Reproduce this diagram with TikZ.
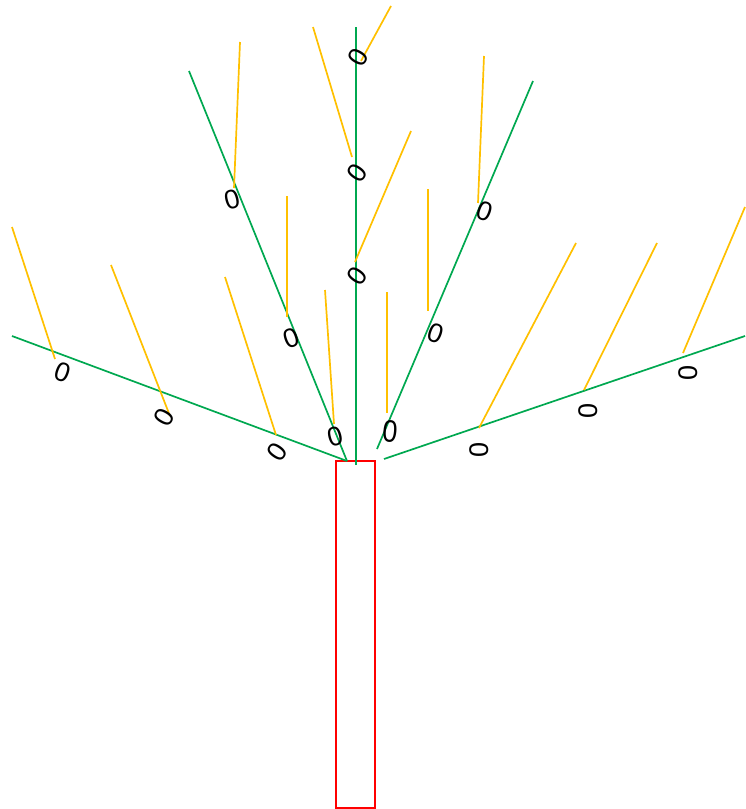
\documentclass[tikz,border=0pt]{standalone}
\usepackage{fontspec}
\setmainfont{Liberation Sans}
\usepackage{tikz}
\usetikzlibrary{positioning}
\definecolor{bark}{HTML}{FF0000}
\definecolor{limb}{HTML}{00A850}
\definecolor{shoot}{HTML}{FFC000}

\tikzset{
  trunk/.style={draw=bark,line width=1.6pt},
  limb/.style={draw=limb,line width=1.7pt},
  shoot/.style={draw=shoot,line width=1.7pt},
  bud/.style={inner sep=0pt,font=\fontsize{27}{27}\selectfont}
}

\begin{document}
\begin{tikzpicture}[x=1pt,y=-1pt]
  \useasboundingbox (0,0) rectangle (745,809);

  % Trunk
  \draw[trunk] (336,461) rectangle (375,808);

  % Main limbs
  \coordinate (base) at (356,465);
  \coordinate (baseL) at (347,461);
  \coordinate (baseR) at (377,449);
  \coordinate (baseRL) at (384,459);
  \draw[limb] (base) -- (356,27);
  \draw[limb] (baseL) -- (189,71);
  \draw[limb] (baseL) -- (12,336);
  \draw[limb] (baseR) -- (533,81);
  \draw[limb] (baseRL) -- (745,336);

  % Shoots on the leader
  \draw[shoot] (391,6) -- (361,61);
  \draw[shoot] (313,27) -- (352,157);
  \draw[shoot] (411,131) -- (355,262);
  \draw[shoot] (428,189) -- (428,311);
  \draw[shoot] (325,290) -- (334,424);
  \draw[shoot] (387,292) -- (387,413);

  % Shoots on the left limbs
  \draw[shoot] (240,42) -- (234,188);
  \draw[shoot] (287,196) -- (287,317);
  \draw[shoot] (225,277) -- (276,435);
  \draw[shoot] (12,227) -- (55,359);
  \draw[shoot] (111,265) -- (170,416);

  % Shoots on the right limbs
  \draw[shoot] (484,56) -- (478,203);
  \draw[shoot] (576,243) -- (479,428);
  \draw[shoot] (657,243) -- (584,390);
  \draw[shoot] (745,207) -- (683,353);

  % Buds
  \node[bud,rotate=60] (b1) at (358,57) {0};
  \node[bud,rotate=55] (b2) at (357,173) {0};
  \node[bud,rotate=55] (b3) at (357,276) {0};
  \node[bud,rotate=15] (b4) at (232,200) {0};
  \node[bud,rotate=20] (b5) at (291,338) {0};
  \node[bud,rotate=15] (b6) at (335,437) {0};
  \node[bud,rotate=-20] (b7) at (63,372) {0};
  \node[bud,rotate=60] (b8) at (164,417) {0};
  \node[bud,rotate=55] (b9) at (277,452) {0};
  \node[bud,rotate=-20] (b10) at (485,211) {0};
  \node[bud,rotate=-20] (b11) at (436,333) {0};
  \node[bud,rotate=-5,yscale=1.15] (b12) at (390,432) {0};
  \node[bud,rotate=90] (b13) at (479,450) {0};
  \node[bud,rotate=90] (b14) at (588,411) {0};
  \node[bud,rotate=90] (b15) at (688,373) {0};
\end{tikzpicture}
\end{document}
